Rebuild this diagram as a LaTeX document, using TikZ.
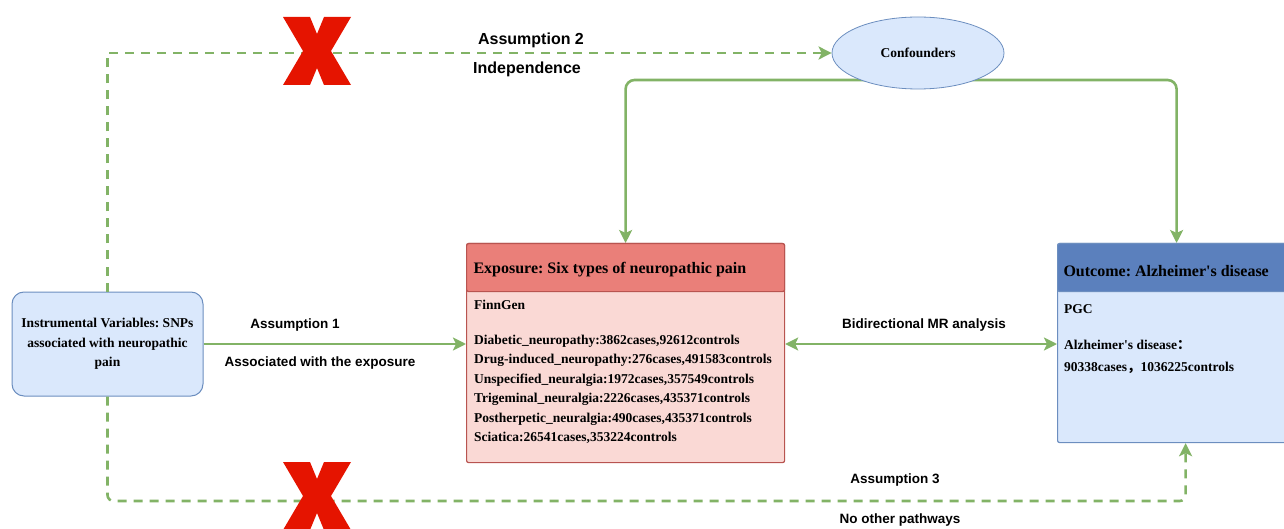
\documentclass[tikz,border=0pt]{standalone}
\usepackage{fontspec}
\setmainfont{Liberation Serif}
\setsansfont{Liberation Sans}
\newfontfamily\cjkfont{Noto Sans CJK SC}
\usepackage{tikz}
\usetikzlibrary{shapes.geometric, arrows.meta, positioning, calc, backgrounds}
\definecolor{mrgreen}{HTML}{82B366}
\definecolor{boxblue}{HTML}{DAE8FC}
\definecolor{lineblue}{HTML}{6C8EBF}
\definecolor{headblue}{HTML}{5B80BD}
\definecolor{headred}{HTML}{EA7F79}
\definecolor{bodyred}{HTML}{FAD9D5}
\definecolor{linered}{HTML}{B85450}
\definecolor{crossred}{HTML}{E51400}
\frenchspacing

\begin{document}
\begin{tikzpicture}[x=1pt, y=-1pt,
    ivbox/.style={rectangle, rounded corners=12pt, draw=lineblue, fill=boxblue, line width=1pt,
                  align=center, font=\fontsize{13.5}{19.5}\selectfont\bfseries},
    panel/.style={rectangle, rounded corners=2pt, draw=#1, line width=1.2pt, anchor=north west},
    paneltitle/.style={anchor=west, font=\fontsize{16}{19}\selectfont\bfseries},
    paneltext/.style={anchor=north west, align=left, inner sep=0pt, font=\fontsize{13.5}{19.5}\selectfont\bfseries},
    lbl/.style={font=\sffamily\bfseries\fontsize{13.5}{16}\selectfont},
    biglbl/.style={font=\sffamily\bfseries\fontsize{16}{19}\selectfont},
    link/.style={draw=mrgreen, line width=2.6pt, -{Stealth[length=13pt, width=13pt, inset=3pt]}},
    dashlink/.style={link, dash pattern=on 9pt off 7pt},
    nocross/.pic={\fill[crossred] (-34,-34) -- (-7,-34) -- (0,-17) -- (7,-34) -- (34,-34) -- (14,0)
                  -- (34,34) -- (7,34) -- (0,17) -- (-7,34) -- (-34,34) -- (-14,0) -- cycle;}
]
\useasboundingbox (0,0) rectangle (1284,529);

% boxes
\node[ivbox, minimum width=191pt, minimum height=104pt] (iv) at (107.5,344)
    {Instrumental Variables: SNPs\\associated with neuropathic\\pain};

\node[panel=linered, fill=bodyred, minimum width=318pt, minimum height=219pt] (exp) at (466,243) {};
\node[panel=linered, fill=headred, minimum width=318pt, minimum height=48pt] (exphead) at (466,243) {};
\node[paneltitle] (exptitle) at (470,270) {Exposure: Six types of neuropathic pain};
\node[paneltext] (expinfo) at (474,300) {FinnGen\\[15pt]
    Diabetic\_neuropathy:3862cases,92612controls\\
    Drug-induced\_neuropathy:276cases,491583controls\\
    Unspecified\_neuralgia:1972cases,357549controls\\
    Trigeminal\_neuralgia:2226cases,435371controls\\
    Postherpetic\_neuralgia:490cases,435371controls\\
    Sciatica:26541cases,353224controls};

\node[panel=lineblue, fill=boxblue, minimum width=238pt, minimum height=199pt] (out) at (1057,243) {};
\node[panel=lineblue, fill=headblue, minimum width=238pt, minimum height=48pt] (outhead) at (1057,243) {};
\node[paneltitle] (outtitle) at (1060,271) {Outcome: Alzheimer\textquotesingle s disease};
\node[paneltext] (outinfo) at (1064,304) {PGC\\[17pt]
    Alzheimer\textquotesingle s disease{\cjkfont ：}\\[2pt]
    90338cases{\cjkfont ，}1036225controls};

\node[ellipse, draw=lineblue, fill=boxblue, line width=0.8pt, minimum width=172pt, minimum height=72pt,
      font=\fontsize{13.5}{16}\selectfont\bfseries] (conf) at (918,53) {Confounders};

% connectors
\begin{scope}[on background layer]
\draw[link, rounded corners=9pt] ($(conf.center)+(0,27)$) -| (exp.north);
\draw[link, rounded corners=9pt] ($(conf.center)+(0,27)$) -| (out.north);
\end{scope}
\draw[link] (iv.east) -- (exp.west |- iv.east);
\draw[link, {Stealth[length=13pt, width=13pt, inset=3pt]}-{Stealth[length=13pt, width=13pt, inset=3pt]}]
    (exp.east |- iv.east) -- (out.west |- iv.east);
\draw[dashlink] (iv.north) |- (conf.west);
\draw[dashlink, rounded corners=6pt] (iv.south) -- (107.5,501) -| ($(out.south)+(9,0)$);

% labels
\node[biglbl] (a2top) at (531,40) {Assumption 2};
\node[biglbl] (a2bot) at (527,69) {Independence};
\node[lbl] (a1top) at (295,325) {Assumption 1};
\node[lbl] (a1bot) at (320,363) {Associated with the exposure};
\node[lbl] (mrlbl) at (924,325) {Bidirectional MR analysis};
\node[lbl] (a3top) at (895,480) {Assumption 3};
\node[lbl] (a3bot) at (900,520) {No other pathways};

% crosses
\pic at (317,51) {nocross};
\pic at (317,496) {nocross};
\end{tikzpicture}
\end{document}
